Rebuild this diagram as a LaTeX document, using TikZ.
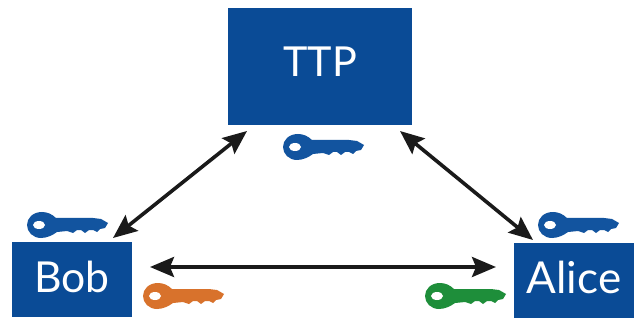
\documentclass[tikz,border=0pt]{standalone}
\usepackage{fontspec}
\setmainfont{Lato}
\usetikzlibrary{arrows.meta}
\definecolor{boxblue}{HTML}{0A4B96}
\definecolor{keyblue}{HTML}{12549F}
\definecolor{keyorange}{HTML}{D8722C}
\definecolor{keygreen}{HTML}{1E8E3A}
\definecolor{arrowink}{HTML}{1A1A1A}
\newcommand{\liftlabel}[2]{\raisebox{#1}[0pt][0pt]{#2}}
\tikzset{
  x=0.75pt,y=-0.75pt,
  party/.style={fill=boxblue,text=white,inner sep=0pt,outer sep=0pt,anchor=center},
  link/.style={draw=arrowink,line width=2.7pt,{Stealth[length=18pt,width=15pt,inset=3pt]}-{Stealth[length=18pt,width=15pt,inset=3pt]}},
  keypic/.pic={
    \fill[pic actions]
      (15,-13) .. controls (20,-13) and (25,-11) .. (29,-7)
      -- (50,-7) -- (66,-7) -- (74,-6) -- (81,-2) -- (78,3) -- (73,4) -- (70,7)
      -- (66,5) -- (62,5) -- (58,8) -- (54,5) -- (50,5) -- (46,8) -- (40,6) -- (30,7)
      .. controls (26,10) and (20,13) .. (14,13)
      .. controls (6,13) and (0,7) .. (0,0)
      .. controls (0,-7) and (6,-13) .. (15,-13) -- cycle;
    \fill[white] (12,0) ellipse [x radius=6,y radius=4];
  }
}
\begin{document}
\begin{tikzpicture}
\useasboundingbox (0,0) rectangle (638,320);
\fill[white] (0,0) rectangle (638,320);
\node[party,minimum width=138pt,minimum height=87.75pt,font=\fontsize{31}{31}\selectfont] (ttp) at (320,66.5) {\liftlabel{-7.6pt}{TTP}};
\node[party,minimum width=90pt,minimum height=56.25pt,font=\fontsize{32}{32}\selectfont] (bob) at (72,279.5) {\liftlabel{-10pt}{Bob}};
\node[party,minimum width=90pt,minimum height=56.25pt,font=\fontsize{33}{33}\selectfont] (alice) at (574,280) {\liftlabel{-10pt}{Alice}};
\coordinate (ttpL) at (247,131);
\coordinate (ttpR) at (400,131);
\coordinate (bobT) at (113,238);
\coordinate (aliceT) at (533,240);
\coordinate (bobR) at (150,267);
\coordinate (aliceL) at (496,267);
\draw[link] (ttpL) -- (bobT);
\draw[link] (ttpR) -- (aliceT);
\draw[link] (bobR) -- (aliceL);
\pic[fill=keyblue] at (283,147) {keypic};
\pic[fill=keyblue] at (27,225) {keypic};
\pic[fill=keyblue] at (538,225) {keypic};
\pic[fill=keyorange] at (143,296) {keypic};
\pic[fill=keygreen] at (425,296) {keypic};
\end{tikzpicture}
\end{document}
